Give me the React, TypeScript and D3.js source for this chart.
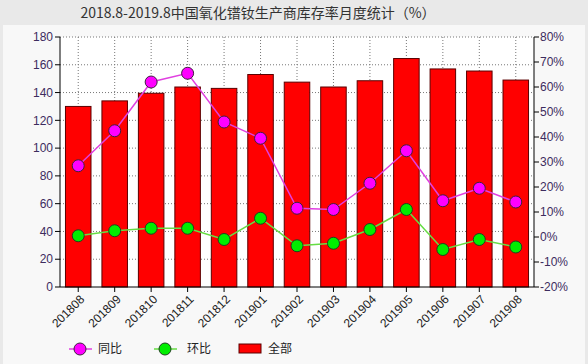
import React from 'react'
import * as d3 from 'd3'

const width = 588
const height = 364
const plot = { left: 60, right: 534, top: 37, bottom: 287 }

const months = ['201808', '201809', '201810', '201811', '201812', '201901', '201902',
  '201903', '201904', '201905', '201906', '201907', '201908']
const total = [130, 134, 139.5, 144, 143, 153, 147.5, 144, 148.5, 164.5, 157, 155.5, 149]
const yoy = [28.5, 42.5, 62, 65.5, 46, 39.5, 11.5, 11, 21.5, 34.5, 14.5, 19.5, 14]
const mom = [0.5, 2.5, 3.5, 3.5, -1, 7.5, -3.5, -2.5, 3, 11, -5, -1, -4]
const leftTicks = [0, 20, 40, 60, 80, 100, 120, 140, 160, 180]
const rightTicks = [-20, -10, 0, 10, 20, 30, 40, 50, 60, 70, 80]

const labelColor = '#3d2c5e'
const font = 'Arial, "Liberation Sans", "Noto Sans CJK SC", sans-serif'

export default function App() {
  const x = d3.scaleBand<string>()
    .domain(months)
    .range([plot.left, plot.right])
    .paddingInner(0.3)
    .paddingOuter(0.15)

  const yLeft = d3.scaleLinear().domain([0, 180]).range([plot.bottom, plot.top])
  const yRight = d3.scaleLinear().domain([-20, 80]).range([plot.bottom, plot.top])

  const cx = (m: string) => (x(m) as number) + x.bandwidth() / 2

  const line = d3.line<number>()
    .x((d, i) => cx(months[i]))
    .y(d => yRight(d))

  return (
    <div style={{ position: 'fixed', left: 0, top: 0 }}>
      <svg width={width} height={height} style={{ display: 'block', fontFamily: font }}>
        <rect x={0} y={0} width={width} height={height} fill='#e9e9e9' />
        <rect x={3} y={25} width={582} height={339} fill='#f8f8f8' />
        <text x={258} y={18} textAnchor='middle' fontSize={14} fill='#333'
          fontFamily='"Noto Sans CJK SC", Arial, sans-serif'>
          2018.8-2019.8中国氧化镨钕生产商库存率月度统计（%）
        </text>

        <rect x={plot.left} y={plot.top} width={plot.right - plot.left}
          height={plot.bottom - plot.top} fill='#fff' />

        {/* grid */}
        {leftTicks.filter(t => t > 0).map(t => (
          <line key={'gy' + t} x1={plot.left} x2={plot.right} y1={yLeft(t)} y2={yLeft(t)}
            stroke='#777' strokeDasharray='1,2' strokeWidth={1} />
        ))}
        {months.map(m => (
          <line key={'gx' + m} x1={cx(m)} x2={cx(m)} y1={plot.top} y2={plot.bottom}
            stroke='#777' strokeDasharray='1,2' strokeWidth={1} />
        ))}

        {/* bars */}
        {months.map((m, i) => (
          <rect key={'b' + m} x={x(m)} y={yLeft(total[i])} width={x.bandwidth()}
            height={plot.bottom - yLeft(total[i])} fill='#ff0000' stroke='#5a0000' strokeWidth={1} />
        ))}

        {/* lines */}
        <path d={line(yoy) || ''} fill='none' stroke='#e040e0' strokeWidth={1.5} />
        <path d={line(mom) || ''} fill='none' stroke='#66dd44' strokeWidth={1.5} />
        {months.map((m, i) => (
          <circle key={'py' + m} cx={cx(m)} cy={yRight(yoy[i])} r={6}
            fill='#ff00ff' stroke='#402040' strokeWidth={1} />
        ))}
        {months.map((m, i) => (
          <circle key={'pm' + m} cx={cx(m)} cy={yRight(mom[i])} r={6}
            fill='#00ee00' stroke='#204020' strokeWidth={1} />
        ))}

        {/* left axis */}
        <line x1={plot.left} x2={plot.left} y1={plot.top} y2={plot.bottom} stroke='#000' />
        {leftTicks.map(t => (
          <g key={'ly' + t}>
            <line x1={plot.left - 5} x2={plot.left} y1={yLeft(t)} y2={yLeft(t)} stroke='#000' />
            <text x={plot.left - 7} y={yLeft(t)} dy='0.35em' textAnchor='end' fontSize={12}
              fill={labelColor}>{t}</text>
          </g>
        ))}

        {/* right axis */}
        <line x1={plot.right} x2={plot.right} y1={plot.top} y2={plot.bottom} stroke='#000' />
        {rightTicks.map(t => (
          <g key={'ry' + t}>
            <line x1={plot.right} x2={plot.right + 5} y1={yRight(t)} y2={yRight(t)} stroke='#000' />
            <text x={plot.right + 6} y={yRight(t)} dy='0.35em' textAnchor='start' fontSize={12}
              fill={labelColor}>{t + '%'}</text>
          </g>
        ))}

        {/* bottom axis */}
        <line x1={plot.left} x2={plot.right} y1={plot.bottom} y2={plot.bottom} stroke='#000' />
        {months.map(m => (
          <g key={'lx' + m}>
            <line x1={cx(m)} x2={cx(m)} y1={plot.bottom} y2={plot.bottom + 5} stroke='#000' />
            <text transform={'translate(' + (cx(m) + 4) + ',' + (plot.bottom + 10) + ') rotate(-45)'}
              textAnchor='end' dy='0.35em' fontSize={12} fill='#222'>{m}</text>
          </g>
        ))}

        {/* legend */}
        <line x1={69} x2={92} y1={349} y2={349} stroke='#e040e0' strokeWidth={1.5} />
        <circle cx={80} cy={349} r={6} fill='#ff00ff' stroke='#402040' />
        <text x={98} y={349} dy='0.35em' fontSize={12} fill='#222'>同比</text>
        <line x1={154} x2={177} y1={349} y2={349} stroke='#66dd44' strokeWidth={1.5} />
        <circle cx={165} cy={349} r={6} fill='#00ee00' stroke='#204020' />
        <text x={187} y={349} dy='0.35em' fontSize={12} fill='#222'>环比</text>
        <rect x={239} y={344} width={22} height={9} fill='#ff0000' stroke='#5a0000' />
        <text x={268} y={349} dy='0.35em' fontSize={12} fill='#222'>全部</text>
      </svg>
    </div>
  )
}
